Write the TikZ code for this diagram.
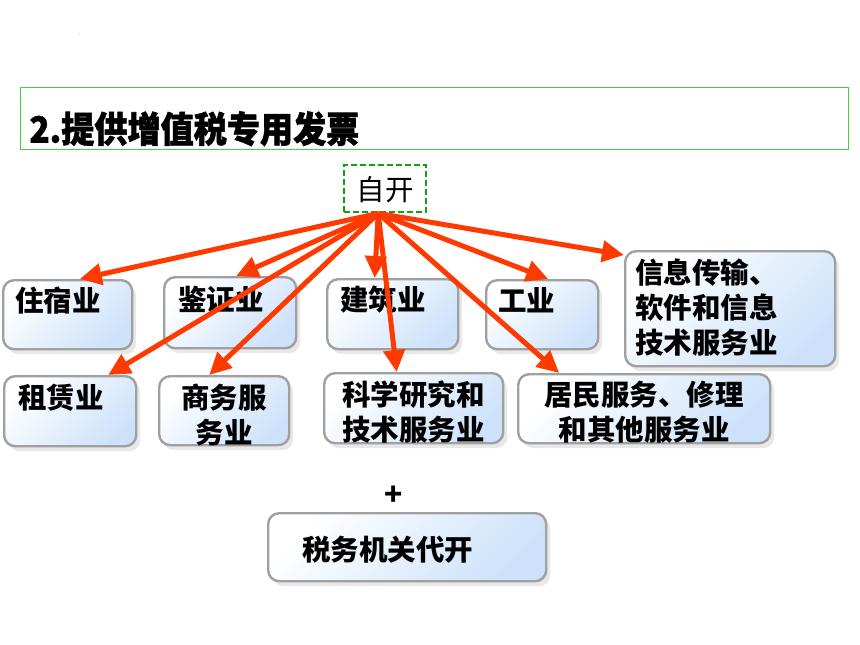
\documentclass[tikz,border=0pt]{standalone}
\usepackage{fontspec}
\usepackage{tikz}
\usetikzlibrary{arrows.meta}
\usetikzlibrary{shadows}
\newfontfamily\cjk{Noto Sans CJK SC}
\newfontfamily\cjktitle{Noto Sans CJK SC}[FakeStretch=0.92, FakeBold=1.5]
\newcommand\tradefont{\cjk\bfseries\fontsize{28.5}{35}\selectfont}
\definecolor{arrowred}{RGB}{255,58,0}
\definecolor{boxgray}{RGB}{160,160,160}
\definecolor{boxblue}{RGB}{205,226,250}
\definecolor{dashgreen}{RGB}{20,160,20}
\definecolor{titlegreen}{RGB}{70,205,70}
\tikzset{trade/.style = {draw=boxgray, line width=2.4pt, rounded corners=11pt,
                         top color=white, bottom color=boxblue, shading angle=45,
                         drop shadow={shadow xshift=4pt, shadow yshift=-5pt, fill=black!18},
                         anchor=north west, inner ysep=0pt, align=left, font=\tradefont},
         feed/.style = {draw=arrowred, line width=5pt,
                        -{Triangle[length=22pt, width=21pt]}}}

\begin{document}
\begin{tikzpicture}[x=1pt, y=-1pt]
    \useasboundingbox (0, 0) rectangle (860, 645);

    \node (dot) [anchor=base, text=gray, font=\fontsize{8}{8}\selectfont] at (79, 35) {.};
    \node (title) [draw=titlegreen, line width=1pt, anchor=north west, inner xsep=9pt, inner ysep=0pt,
                   text width=810pt, text height=55pt, text depth=7pt, align=left,
                   font=\cjktitle\bfseries\fontsize{36}{40}\selectfont] at (20, 87) {2.提供增值税专用发票};
    \node (zikai) [draw=dashgreen, line width=2.4pt, dash pattern=on 6pt off 3pt, anchor=north west,
                   inner sep=0pt, text width=82pt, align=center, text height=35pt, text depth=12pt,
                   font=\cjk\fontsize{28.5}{35}\selectfont] at (343, 164) {自开};

    \node (zhusu) [trade, inner xsep=12pt, text width=105pt, text height=31pt, text depth=38pt] at (2, 279) {住宿业};
    \node (jianzheng) [trade, inner xsep=14pt, text width=104pt, text height=33pt, text depth=38pt] at (163, 276) {鉴证业};
    \node (jianzhu) [trade, inner xsep=13pt, text width=105pt, text height=31pt, text depth=39pt] at (326, 278) {建筑业};
    \node (gongye) [trade, inner xsep=12pt, text width=88pt, text height=31pt, text depth=38pt] at (485, 279) {工业};
    \node (xinxi) [trade, inner xsep=10pt, text width=190pt, text height=32pt, text depth=83pt] at (624, 250) {信息传输、\\软件和信息\\技术服务业};
    \node (zulin) [trade, inner xsep=14pt, text width=104pt, text height=32pt, text depth=38pt] at (3, 375) {租赁业};
    \node (shangwu) [trade, align=center, inner xsep=4pt, text width=122pt, text height=32pt, text depth=37pt] at (158, 375) {商务服\\务业};
    \node (kexue) [trade, align=center, inner xsep=4pt, text width=171pt, text height=32pt, text depth=38pt] at (323, 372) {科学研究和\\技术服务业};
    \node (jumin) [trade, align=center, inner xsep=4pt, text width=244pt, text height=31pt, text depth=38pt] at (517, 373) {居民服务、修理\\和其他服务业};

    \node (plus) [font=\cjk\bfseries\fontsize{30}{30}\selectfont] at (394, 496) {+};
    \node (shuiwu) [trade, inner xsep=34pt, text width=210pt, text height=47pt, text depth=21pt] at (267, 512) {税务机关代开};

    \coordinate (src) at ([xshift=-7pt]zikai.south);
    \foreach \dest/\dx in {zhusu/12, jianzheng/6, jianzhu/-18, gongye/6, zulin/38, shangwu/-15, kexue/-17, jumin/-85} {
      \draw [feed] (src) -- ([xshift=\dx pt]\dest.north);
    }
    \draw [feed] (src) -- ([yshift=-5pt]xinxi.north west);
  \end{tikzpicture}
\end{document}
